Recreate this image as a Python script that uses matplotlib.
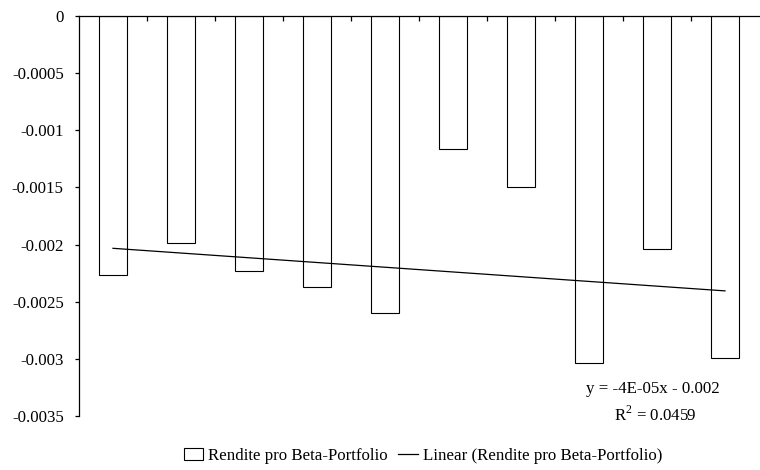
import matplotlib
matplotlib.use('Agg')
import matplotlib.pyplot as plt
import numpy as np
from matplotlib.ticker import FuncFormatter

# Rendite pro Beta-Portfolio (10 portfolios)
portfolios = np.arange(1, 11)
rendite = [-0.00227, -0.00199, -0.00223, -0.00237, -0.00260,
           -0.00116, -0.00150, -0.00304, -0.00204, -0.00299]
y_ticks = [0, -0.0005, -0.001, -0.0015, -0.002, -0.0025, -0.003, -0.0035]
eq_text = 'y = -4E-05x - 0.002'
r2_text = 'R$^2$ = 0.0459'

plt.rcParams['font.family'] = ['Liberation Serif', 'DejaVu Serif']
plt.rcParams['mathtext.fontset'] = 'custom'
plt.rcParams['mathtext.rm'] = 'Liberation Serif'
plt.rcParams['font.size'] = 12.2

fig = plt.figure(figsize=(7.6, 4.7), dpi=100)
ax = fig.add_axes([79 / 760, 1 - 416 / 470, 680 / 760, 400 / 470])

bars = ax.bar(portfolios, rendite, width=0.41, color='white',
              edgecolor='black', linewidth=0.8,
              label='Rendite pro Beta-Portfolio', zorder=2)

# linear trendline
k, d = np.polyfit(portfolios, rendite, 1)
trend, = ax.plot(portfolios, k * portfolios + d, color='black', linewidth=0.9,
                 label='Linear (Rendite pro Beta-Portfolio)', zorder=3)

ax.set_xlim(0.5, 10.5)
ax.set_ylim(-0.0035, 0)

ax.spines['right'].set_visible(False)
ax.spines['bottom'].set_visible(False)
ax.spines['top'].set_linewidth(0.9)
ax.spines['left'].set_linewidth(0.9)

ax.xaxis.tick_top()
ax.set_xticks(np.arange(1.5, 10.5, 1))
ax.set_xticklabels([])
ax.tick_params(axis='x', direction='in', length=3.6, width=0.9)

ax.set_yticks(y_ticks)
ax.yaxis.set_major_formatter(FuncFormatter(lambda v, p: '{:g}'.format(v) if v != 0 else '0'))
ax.tick_params(axis='y', direction='out', length=3, width=0.9, pad=8)

fig.text(653 / 760, 1 - 389 / 470, eq_text, ha='center', va='center')
fig.text(655 / 760, 1 - 415 / 470, r2_text, ha='center', va='center')

fig.legend(handles=[bars, trend], loc='center', bbox_to_anchor=(423 / 760, 1 - 456 / 470),
           ncol=2, frameon=False, handlelength=1.15, handletextpad=0.3,
           columnspacing=0.6, borderpad=0)

fig.savefig('out.png', dpi=100)
